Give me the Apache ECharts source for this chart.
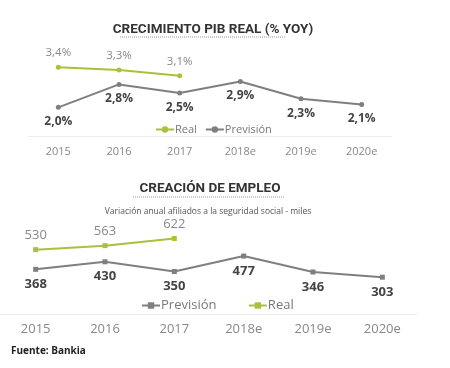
<!DOCTYPE html>
<html><head><meta charset="utf-8">
<script src="https://cdn.jsdelivr.net/npm/echarts@6/dist/echarts.min.js"></script>
<style>html,body{margin:0;padding:0;background:#fff;}#c{width:450px;height:368px;}</style>
</head><body><div id="c"></div>
<script>
const years = ['2015','2016','2017','2018e','2019e','2020e'];
const pibReal = [3.4, 3.3, 3.1, null, null, null];
const pibPrev = [2.0, 2.8, 2.5, 2.9, 2.3, 2.1];
const empReal = [530, 563, 622, null, null, null];
const empPrev = [368, 430, 350, 477, 346, 303];

const GREEN = '#a8c23a', GRAY = '#7f7f7f';
const pct = p => p.value == null ? '' : p.value.toFixed(1).replace('.', ',') + '%';
const FONT = 'Open Sans';
const TFONT = 'Roboto';

const chart = echarts.init(document.getElementById('c'));
chart.setOption({
  animation: false,
  textStyle: {fontFamily: FONT},
  title: [
    {text: 'CRECIMIENTO PIB REAL (% YOY)', left: 208, top: 18, textAlign: 'center',
     textStyle: {fontSize: 13.5, fontWeight: 'bold', color: '#333', fontFamily: TFONT}},
    {text: 'CREACIÓN DE EMPLEO', left: 205, top: 177, textAlign: 'center',
     textStyle: {fontSize: 13.5, fontWeight: 'bold', color: '#333', fontFamily: TFONT}},
    {text: 'Variación anual afiliados a la seguridad social - miles', left: 203, top: 202, textAlign: 'center',
     textStyle: {fontSize: 8.5, fontWeight: 'normal', color: '#555', fontFamily: FONT}},
    {text: 'Fuente: Bankia', left: 6, top: 341,
     textStyle: {fontSize: 10, fontWeight: 'bold', color: '#222', fontFamily: FONT}}
  ],
  graphic: [
    {type: 'line', shape: {x1: 120, y1: 37, x2: 285, y2: 37}, style: {stroke: '#999', lineWidth: 1, lineDash: [1, 1]}},
    {type: 'line', shape: {x1: 133, y1: 197, x2: 285, y2: 197}, style: {stroke: '#999', lineWidth: 1, lineDash: [1, 1]}}
  ],
  legend: [
    {data: ['Real', 'Previsión'], left: 150, top: 119, itemWidth: 18, itemHeight: 8, itemGap: 8,
     textStyle: {fontSize: 11, color: '#777', padding: [0, 0, 0, -4]}},
    {data: ['Previsión ', 'Real '], left: 136, top: 294, itemWidth: 18, itemHeight: 8, itemGap: 28,
     textStyle: {fontSize: 13, color: '#777', padding: [0, 0, 0, -4]}}
  ],
  grid: [
    {left: 28, right: 58, top: 50, height: 86},
    {left: 1, right: 33, top: 229, height: 85}
  ],
  xAxis: [
    {type: 'category', gridIndex: 0, data: years, axisTick: {show: false},
     axisLine: {lineStyle: {color: '#eee'}}, axisLabel: {color: '#888', fontSize: 11, margin: 10}},
    {type: 'category', gridIndex: 1, data: years, axisTick: {show: false},
     axisLine: {lineStyle: {color: '#eee'}}, axisLabel: {color: '#888', fontSize: 13, margin: 9}}
  ],
  yAxis: [
    {type: 'value', gridIndex: 0, min: 1, max: 4, show: false},
    {type: 'value', gridIndex: 1, min: 0, max: 700, show: false}
  ],
  series: [
    {name: 'Real', type: 'line', xAxisIndex: 0, yAxisIndex: 0, data: pibReal,
     color: GREEN, lineStyle: {width: 2}, symbol: 'circle', symbolSize: 5,
     label: {show: true, position: 'top', distance: 6, formatter: pct, color: '#888', fontSize: 11.5}},
    {name: 'Previsión', type: 'line', xAxisIndex: 0, yAxisIndex: 0, data: pibPrev,
     color: GRAY, lineStyle: {width: 2}, symbol: 'circle', symbolSize: 5,
     label: {show: true, position: 'bottom', distance: 6, formatter: pct, color: '#444', fontSize: 12, fontWeight: 'bold'}},
    {name: 'Previsión ', type: 'line', xAxisIndex: 1, yAxisIndex: 1, data: empPrev,
     color: GRAY, lineStyle: {width: 2}, symbol: 'rect', symbolSize: 5,
     label: {show: true, position: 'bottom', distance: 6, color: '#444', fontSize: 13, fontWeight: 'bold'}},
    {name: 'Real ', type: 'line', xAxisIndex: 1, yAxisIndex: 1, data: empReal,
     color: GREEN, lineStyle: {width: 2}, symbol: 'rect', symbolSize: 5,
     label: {show: true, position: 'top', distance: 5, color: '#888', fontSize: 13}}
  ]
});
</script></body></html>
